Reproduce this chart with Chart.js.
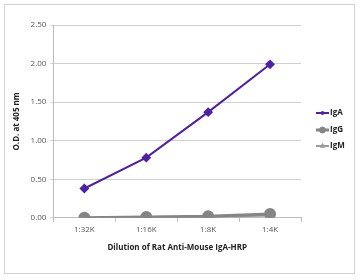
<!DOCTYPE html>
<html>
<head>
<meta charset="utf-8">
<script src="https://cdn.jsdelivr.net/npm/chart.js@4"></script>
<style>
  html, body { margin: 0; padding: 0; background: #fff; }
  #frame {
    position: absolute; left: 4px; top: 4px; width: 351px; height: 270px;
    border: 1px solid #d4d4d4; box-sizing: border-box;
  }
  canvas { position: absolute; left: 0; top: 0; }
</style>
</head>
<body>
<div id="frame"></div>
<canvas id="chart" width="360" height="280"></canvas>
<script>
// Data
const dilutions = ['1:32K', '1:16K', '1:8K', '1:4K'];
const igaValues = [0.38, 0.78, 1.37, 1.99];
const iggValues = [0.00, 0.01, 0.02, 0.05];
const igmValues = [0.00, 0.01, 0.01, 0.03];
const yTicks = [0, 0.5, 1, 1.5, 2, 2.5];

const FONT = '"Open Sans", sans-serif';

// Legend drawn as line + marker, like the original spreadsheet chart
const lineLegend = {
    id: 'lineLegend',
    afterDraw(chart) {
        const ctx = chart.ctx;
        const x0 = 316, x1 = 329;
        const rows = [113, 130, 146];
        chart.data.datasets.forEach((ds, i) => {
            const y = rows[i];
            ctx.save();
            ctx.strokeStyle = ds.borderColor;
            ctx.fillStyle = ds.backgroundColor;
            ctx.lineWidth = ds.borderWidth;
            ctx.beginPath();
            ctx.moveTo(x0, y);
            ctx.lineTo(x1, y);
            ctx.stroke();
            ctx.lineWidth = 1;
            Chart.helpers.drawPoint(ctx, {
                pointStyle: ds.pointStyle,
                radius: ds.pointRadius - 1.5,
                borderWidth: 1
            }, (x0 + x1) / 2, y);
            ctx.fillStyle = '#222';
            ctx.font = 'bold 8px ' + FONT;
            ctx.textBaseline = 'middle';
            ctx.fillText(ds.label, x1 + 1, y);
            ctx.restore();
        });
    }
};

new Chart(document.getElementById('chart').getContext('2d'), {
    type: 'line',
    data: {
        labels: dilutions,
        datasets: [
            {
                label: 'IgA',
                data: igaValues,
                borderColor: '#4e20a8',
                backgroundColor: '#4e20a8',
                borderWidth: 2,
                pointStyle: 'rectRot',
                pointRadius: 3.5,
                tension: 0
            },
            {
                label: 'IgG',
                data: iggValues,
                borderColor: '#858585',
                backgroundColor: '#858585',
                borderWidth: 3,
                pointStyle: 'circle',
                pointRadius: 4.5,
                tension: 0
            },
            {
                label: 'IgM',
                data: igmValues,
                borderColor: '#9a9a9a',
                backgroundColor: '#9a9a9a',
                borderWidth: 2,
                pointStyle: 'triangle',
                pointRadius: 4,
                tension: 0
            }
        ]
    },
    options: {
        responsive: false,
        animation: false,
        layout: { padding: { left: 12, right: 59, top: 25, bottom: 27 } },
        plugins: {
            legend: { display: false },
            tooltip: { enabled: false }
        },
        scales: {
            x: {
                offset: true,
                grid: {
                    offset: true,
                    drawOnChartArea: false,
                    drawTicks: true,
                    tickLength: 4,
                    color: '#bbb'
                },
                border: { color: '#bbb' },
                ticks: { color: '#555', font: { family: FONT, size: 8 }, padding: 3 },
                title: {
                    display: true,
                    text: 'Dilution of Rat Anti-Mouse IgA-HRP',
                    color: '#222',
                    font: { family: FONT, size: 8, weight: 'bold' },
                    padding: { top: 6, bottom: 0 }
                }
            },
            y: {
                min: 0,
                max: 2.5,
                afterBuildTicks(scale) {
                    scale.ticks = yTicks.map(v => ({ value: v }));
                },
                grid: { color: '#d0d0d0', tickLength: 3 },
                border: { color: '#bbb' },
                ticks: {
                    color: '#555',
                    font: { family: FONT, size: 8 },
                    padding: 4,
                    callback: v => Number(v).toFixed(2)
                },
                title: {
                    display: true,
                    text: 'O.D. at 405 nm',
                    color: '#222',
                    font: { family: FONT, size: 8, weight: 'bold' },
                    padding: { top: 0, bottom: 5 }
                }
            }
        }
    },
    plugins: [lineLegend]
});
</script>
</body>
</html>
